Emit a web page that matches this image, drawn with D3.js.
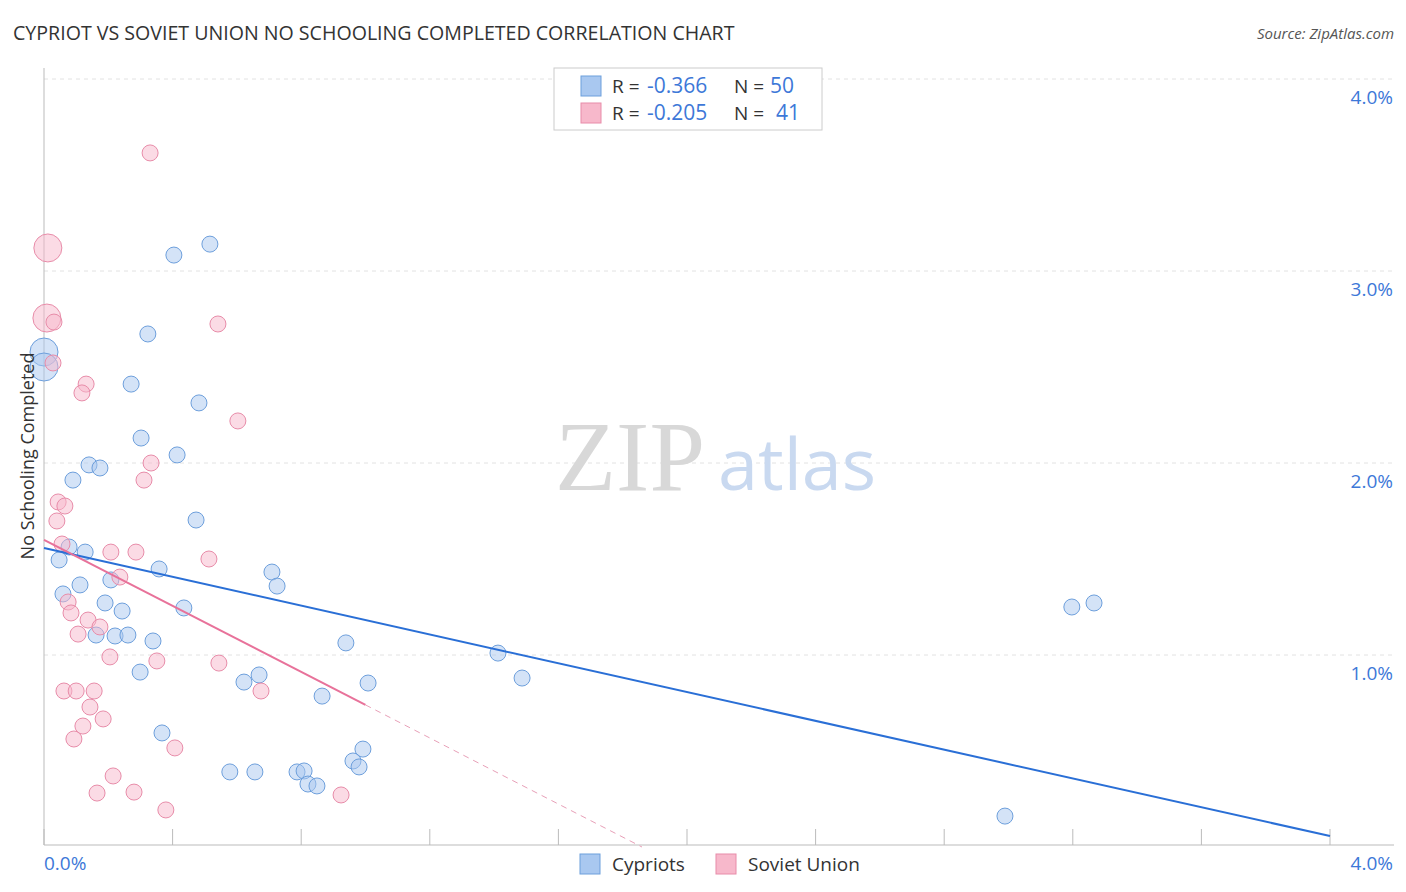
<!DOCTYPE html>
<html><head><meta charset="utf-8">
<script src="https://cdn.jsdelivr.net/npm/d3@7"></script>
<style>body{margin:0;background:#fff;font-family:"Open Sans",sans-serif}</style>
</head><body><svg id="c" width="1406" height="892"></svg>
<script>
const cypX=[0,0,0.516,0.404,0.323,0.271,0.482,0.302,0.414,0.140,0.174,0.090,0.473,0.078,0.128,0.047,0.358,0.709,0.725,0.112,0.208,0.059,0.190,0.435,0.243,0.162,0.221,0.261,0.339,0.939,1.412,0.299,0.669,0.622,1.008,1.487,0.865,0.367,0.992,0.961,0.980,0.578,0.656,0.787,0.809,0.821,0.849,3.197,3.266,2.989];
const cypY=[2.578,2.50,3.14,3.083,2.672,2.411,2.313,2.130,2.042,1.99,1.974,1.911,1.703,1.5625,1.536,1.495,1.448,1.432,1.359,1.365,1.391,1.318,1.271,1.245,1.229,1.104,1.099,1.104,1.073,1.063,1.010,0.911,0.896,0.859,0.854,0.880,0.786,0.594,0.510,0.448,0.417,0.391,0.391,0.391,0.396,0.328,0.318,1.25,1.271,0.161];
const cypBig=[1,1];
const sovX=[0.330,0.012,0.009,0.031,0.541,0.028,0.131,0.118,0.603,0.333,0.311,0.044,0.065,0.040,0.056,0.208,0.286,0.513,0.236,0.075,0.084,0.137,0.174,0.106,0.205,0.351,0.544,0.062,0.100,0.156,0.675,0.143,0.184,0.121,0.093,0.407,0.215,0.165,0.280,0.924,0.379];
const sovY=[3.615,3.12,2.755,2.734,2.724,2.521,2.411,2.365,2.219,2.0,1.911,1.797,1.776,1.698,1.578,1.536,1.536,1.5,1.406,1.276,1.219,1.182,1.146,1.109,0.990,0.969,0.958,0.8125,0.8125,0.8125,0.8125,0.729,0.667,0.630,0.5625,0.516,0.370,0.281,0.286,0.271,0.193];
const sovBig=[0,1,1];
const cypLine=[[0,1.557],[4.0,0.057]];
const sovLine=[[0,1.60],[1.0,0.74]];
const sovDash=[[1.0,0.74],[1.86,0]];
const yTicks=[1,2,3,4];

const svg=d3.select("#c");
const x=d3.scaleLinear().domain([0,4]).range([44,1330]);
const y=d3.scaleLinear().domain([0,4]).range([847,79]);

svg.selectAll(".g").data(yTicks).enter().append("line")
 .attr("x1",44).attr("x2",1394).attr("y1",d=>y(d)).attr("y2",d=>y(d))
 .attr("stroke","#e2e2e2").attr("stroke-dasharray","4,4");
svg.selectAll(".yl").data(yTicks).enter().append("text")
 .attr("x",1393).attr("y",d=>y(d)+25).attr("text-anchor","end")
 .attr("fill","#3d78d8").attr("font-size",19).text(d=>d.toFixed(1)+"%");
svg.append("line").attr("x1",44).attr("x2",44).attr("y1",68).attr("y2",845).attr("stroke","#bbb");
svg.append("line").attr("x1",44).attr("x2",1394).attr("y1",845).attr("y2",845).attr("stroke","#bbb");
d3.range(0,11).forEach(i=>svg.append("line").attr("x1",x(i*0.4)).attr("x2",x(i*0.4)).attr("y1",829).attr("y2",845).attr("stroke","#bbb"));
svg.append("text").attr("x",44).attr("y",870).attr("fill","#3d78d8").attr("font-size",19).text("0.0%");
svg.append("text").attr("x",1393).attr("y",870).attr("text-anchor","end").attr("fill","#3d78d8").attr("font-size",19).text("4.0%");

svg.append("text").attr("x",555).attr("y",490).attr("font-family","Liberation Serif,serif").attr("font-size",100).attr("fill","#d8d8d8").text("ZIP");
svg.append("text").attr("x",718).attr("y",490).attr("font-size",72).attr("fill","#c9d9f0").text("atlas");

function pts(X,Y,B,fill,stroke){
 svg.append("g").selectAll("circle").data(X.map((d,i)=>[d,Y[i],B[i]||0])).enter().append("circle")
  .attr("cx",d=>x(d[0])).attr("cy",d=>y(d[1])).attr("r",d=>d[2]?14:8)
  .attr("fill",fill).attr("fill-opacity",0.5).attr("stroke",stroke).attr("stroke-width",1);
}
pts(cypX,cypY,cypBig,"#a9c8f0","#6d9fdc");
pts(sovX,sovY,sovBig,"#f7b8cb","#e88ca9");

const ln=d3.line().x(d=>x(d[0])).y(d=>y(d[1]));
svg.append("path").attr("d",ln(cypLine)).attr("stroke","#2a6fd6").attr("stroke-width",2).attr("fill","none");
svg.append("path").attr("d",ln(sovLine)).attr("stroke","#e8729a").attr("stroke-width",2).attr("fill","none");
svg.append("path").attr("d",ln(sovDash)).attr("stroke","#e8a0b8").attr("stroke-width",1).attr("stroke-dasharray","6,5").attr("fill","none");

svg.append("text").attr("x",13).attr("y",40).attr("font-size",19.6).attr("fill","#333").text("CYPRIOT VS SOVIET UNION NO SCHOOLING COMPLETED CORRELATION CHART");
svg.append("text").attr("x",1394).attr("y",39).attr("text-anchor","end").attr("font-size",15).attr("font-style","italic").attr("fill","#555").text("Source: ZipAtlas.com");
svg.append("text").attr("transform","translate(34,456) rotate(-90)").attr("text-anchor","middle").attr("font-size",18).attr("fill","#333").text("No Schooling Completed");

svg.append("rect").attr("x",554).attr("y",68).attr("width",268).attr("height",62).attr("fill","#fff").attr("stroke","#ccc");
[["-0.366","50","#a9c8f0","#6d9fdc"],["-0.205","41","#f7b8cb","#e88ca9"]].forEach((r,i)=>{
 const yy=86+i*27;
 svg.append("rect").attr("x",581).attr("y",yy-10).attr("width",20).attr("height",20).attr("fill",r[2]).attr("stroke",r[3]);
 const t=svg.append("text").attr("y",yy+7).attr("font-size",19).attr("fill","#333");
 t.append("tspan").attr("x",612).text("R =");
 t.append("tspan").attr("x",647).attr("fill","#3d78d8").attr("font-size",21).text(r[0]);
 t.append("tspan").attr("x",734).text("N =");
 t.append("tspan").attr("fill","#3d78d8").attr("font-size",21).attr("x",i?776:770).text(r[1]);
});
[["Cypriots",580,"#a9c8f0","#6d9fdc"],["Soviet Union",716,"#f7b8cb","#e88ca9"]].forEach(r=>{
 svg.append("rect").attr("x",r[1]).attr("y",854).attr("width",20).attr("height",20).attr("fill",r[2]).attr("stroke",r[3]);
 svg.append("text").attr("x",r[1]+32).attr("y",871).attr("font-size",19).attr("fill","#333").text(r[0]);
});
</script></body></html>
